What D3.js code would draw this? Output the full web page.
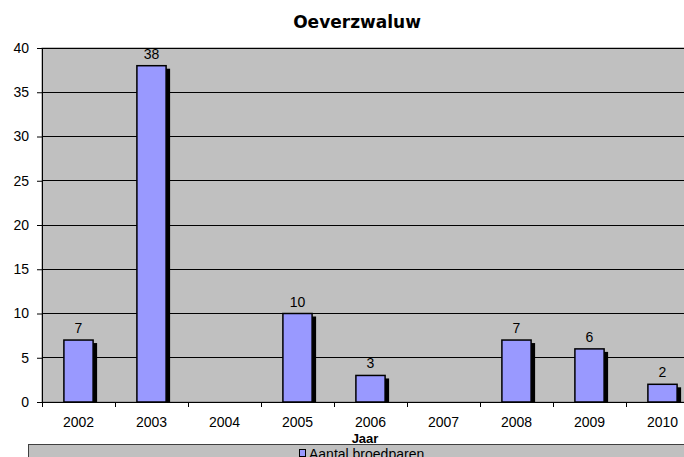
<!DOCTYPE html>
<html>
<head>
<meta charset="utf-8">
<script src="https://cdn.jsdelivr.net/npm/d3@7"></script>
<style>
  body { margin: 0; background: #fff; }
  svg { display: block; font-family: "Liberation Sans", Arial, sans-serif; }
</style>
</head>
<body>
<script>
const W = 684, H = 457;

const years = ['2002', '2003', '2004', '2005', '2006', '2007', '2008', '2009', '2010'];
const broedparen = [7, 38, null, 10, 3, null, 7, 6, 2];
const yTicks = [0, 5, 10, 15, 20, 25, 30, 35, 40];

const plotLeft = 42, plotTop = 48, plotBottom = 402, plotRight = 699;

const svg = d3.select('body').append('svg')
  .attr('width', W)
  .attr('height', H);

const x = d3.scaleBand()
  .domain(years)
  .range([plotLeft, plotRight])
  .paddingInner(0.6)
  .paddingOuter(0.3);

const y = d3.scaleLinear()
  .domain([0, 40])
  .range([plotBottom, plotTop]);

// plot background
svg.append('rect')
  .attr('x', plotLeft).attr('y', plotTop)
  .attr('width', plotRight - plotLeft).attr('height', plotBottom - plotTop)
  .attr('fill', '#c0c0c0')
  .attr('stroke', '#808080');

// gridlines
svg.append('g')
  .selectAll('line')
  .data(yTicks.filter(d => d > 0))
  .join('line')
  .attr('x1', plotLeft).attr('x2', plotRight)
  .attr('y1', d => y(d)).attr('y2', d => y(d))
  .attr('stroke', '#000')
  .attr('stroke-width', 1)
  .attr('shape-rendering', 'crispEdges');

const data = years.map((yr, i) => ({ year: yr, value: broedparen[i] }))
  .filter(d => d.value !== null);

// shadows
svg.append('g')
  .selectAll('rect')
  .data(data)
  .join('rect')
  .attr('x', d => x(d.year) + 4)
  .attr('y', d => y(d.value) + 3)
  .attr('width', x.bandwidth())
  .attr('height', d => plotBottom - y(d.value) - 3)
  .attr('fill', '#000');

// bars
svg.append('g')
  .selectAll('rect')
  .data(data)
  .join('rect')
  .attr('x', d => x(d.year))
  .attr('y', d => y(d.value))
  .attr('width', x.bandwidth())
  .attr('height', d => plotBottom - y(d.value))
  .attr('fill', '#9999ff')
  .attr('stroke', '#000')
  .attr('stroke-width', 1.5);

// value labels
svg.append('g')
  .selectAll('text')
  .data(data)
  .join('text')
  .attr('x', d => x(d.year) + x.bandwidth() / 2)
  .attr('y', d => y(d.value) - 7)
  .attr('text-anchor', 'middle')
  .attr('font-size', '14px')
  .attr('fill', '#000')
  .text(d => d.value);

// axes
const yAxis = svg.append('g')
  .attr('transform', `translate(${plotLeft},0)`)
  .call(d3.axisLeft(y).tickValues(yTicks).tickSize(5).tickPadding(8));
yAxis.selectAll('text').attr('font-size', '14px').attr('font-family', 'Liberation Sans, Arial, sans-serif').attr('fill', '#000');
yAxis.selectAll('line, path').attr('stroke', '#000');

const xAxis = svg.append('g')
  .attr('transform', `translate(0,${plotBottom})`)
  .call(d3.axisBottom(x).tickSize(0).tickPadding(15));
xAxis.select('.domain').attr('stroke', '#000');
xAxis.selectAll('text').attr('font-size', '14px').attr('font-family', 'Liberation Sans, Arial, sans-serif').attr('fill', '#000');

// category boundary ticks
svg.append('g')
  .selectAll('line')
  .data(years)
  .join('line')
  .attr('x1', d => x(d) - x.step() * x.paddingInner() / 2)
  .attr('x2', d => x(d) - x.step() * x.paddingInner() / 2)
  .attr('y1', plotBottom).attr('y2', plotBottom + 5)
  .attr('stroke', '#000')
  .attr('shape-rendering', 'crispEdges');

// title
svg.append('text')
  .attr('x', 357).attr('y', 28)
  .attr('text-anchor', 'middle')
  .attr('font-family', '"DejaVu Sans", sans-serif')
  .attr('font-size', '17px')
  .attr('font-weight', 'bold')
  .text('Oeverzwaluw');

// x axis title
svg.append('text')
  .attr('x', 365).attr('y', 443)
  .attr('text-anchor', 'middle')
  .attr('font-size', '13px')
  .attr('font-weight', 'bold')
  .text('Jaar');

// legend
svg.append('rect')
  .attr('x', 28.5).attr('y', 444.5)
  .attr('width', 700).attr('height', 30)
  .attr('fill', '#c0c0c0')
  .attr('stroke', '#404040');
svg.append('rect')
  .attr('x', 299.5).attr('y', 449.5)
  .attr('width', 6).attr('height', 7)
  .attr('fill', '#9999ff')
  .attr('stroke', '#000');
svg.append('text')
  .attr('x', 309).attr('y', 459)
  .attr('font-size', '14px')
  .text('Aantal broedparen');
</script>
</body>
</html>
